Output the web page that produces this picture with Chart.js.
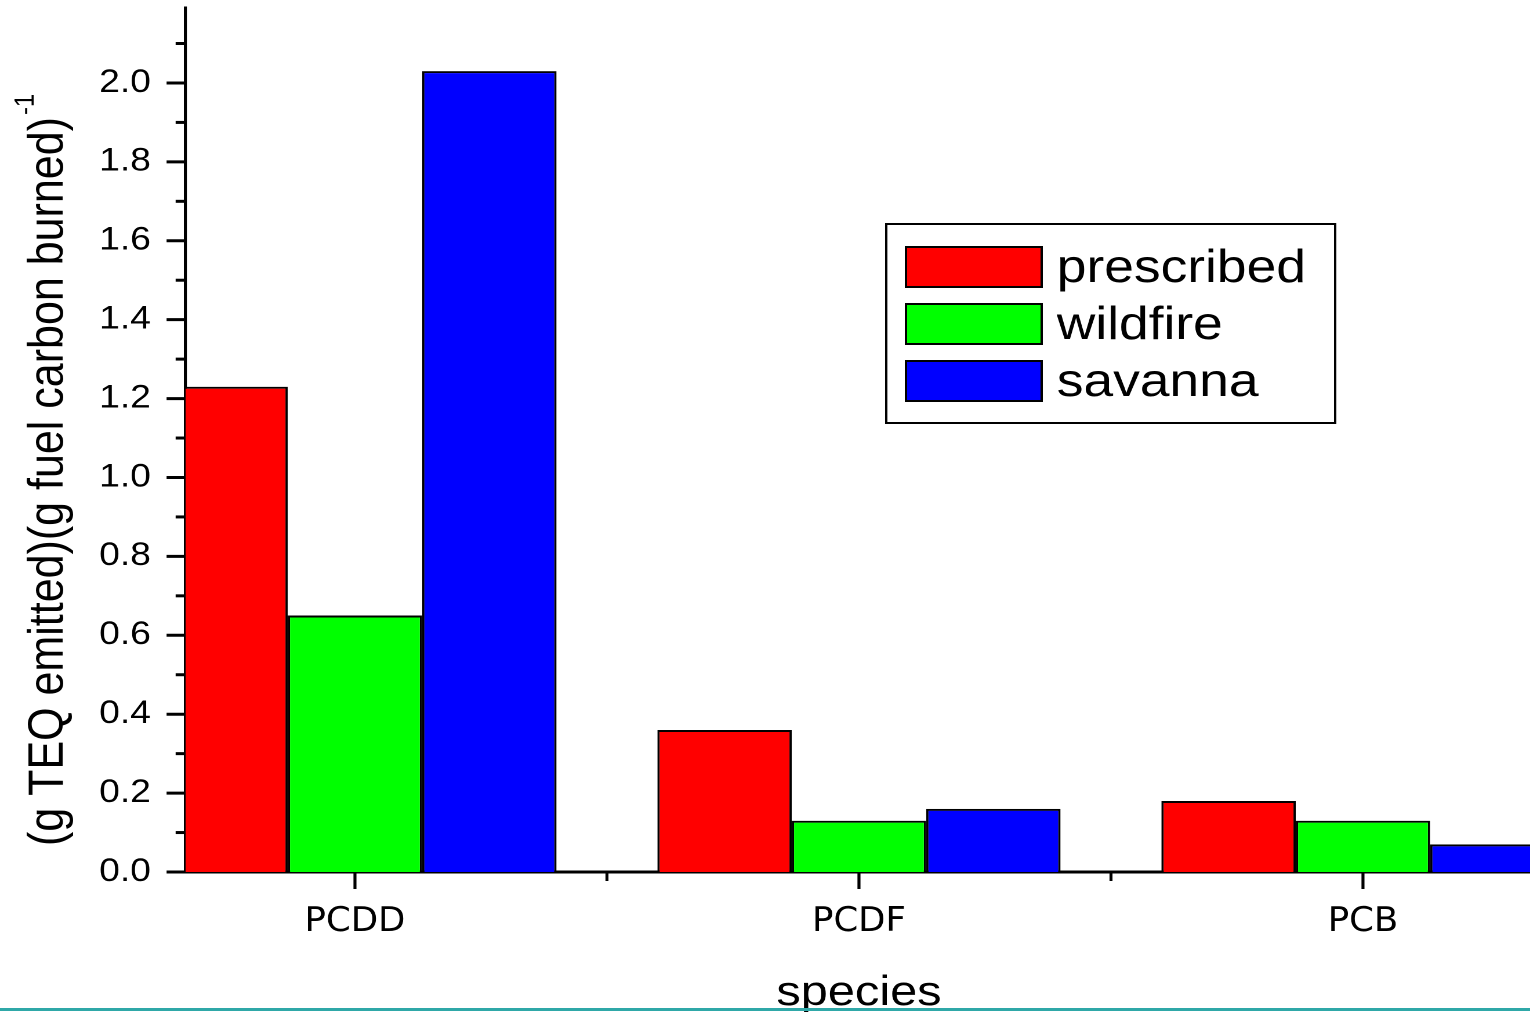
<!DOCTYPE html>
<html>
<head>
<meta charset="utf-8">
<script src="https://cdn.jsdelivr.net/npm/chart.js@4.4.0/dist/chart.umd.min.js"></script>
<style>
  html, body { margin: 0; padding: 0; background: #fff; overflow: hidden; }
  #wrap { position: relative; width: 1530px; height: 1012px; overflow: hidden; }
  /* the original figure is stretched sideways, so the canvas is too */
  #emissions { position: absolute; left: 0; top: 0; transform: scaleX(1.16); transform-origin: 0 0; }
  #rule { position: absolute; left: 0; right: 0; top: 1008px; height: 3px; background: #2fa8a8; }
</style>
</head>
<body>
<div id="wrap">
  <canvas id="emissions" width="1450" height="1012"></canvas>
  <div id="rule"></div>
</div>
<script>
const species = ['PCDD', 'PCDF', 'PCB'];
const prescribed = [1.23, 0.36, 0.18];
const wildfire = [0.65, 0.13, 0.13];
const savanna = [2.03, 0.16, 0.07];
const yTickValues = [0.0, 0.2, 0.4, 0.6, 0.8, 1.0, 1.2, 1.4, 1.6, 1.8, 2.0];
const yTitle = '(g TEQ emitted)(g fuel carbon burned)';
const yTitleSup = '-1';
const xTitle = 'species';

const ARIAL = '"Liberation Sans", Arial, sans-serif';

function points(values) {
    return species.map((s, i) => ({x: i, y: values[i]}));
}

// tick marks, axis titles and the boxed legend
const decor = {
    id: 'decor',
    afterDraw(chart) {
        const {ctx, chartArea: a, scales: {x, y}} = chart;
        ctx.save();
        ctx.strokeStyle = '#000';
        ctx.fillStyle = '#000';

        ctx.lineWidth = 3;
        for (let i = 0; i <= 21; i++) {
            const py = y.getPixelForValue(i / 10);
            const len = i % 2 === 0 ? 16.4 : 8.6;
            ctx.beginPath();
            ctx.moveTo(a.left - len, py);
            ctx.lineTo(a.left, py);
            ctx.stroke();
        }
        ctx.lineWidth = 2.6;
        for (let i = 0; i <= 5; i++) {
            const px = x.getPixelForValue(i / 2);
            if (px > a.right) continue;
            const len = i % 2 === 0 ? 17 : 9;
            ctx.beginPath();
            ctx.moveTo(px, a.bottom);
            ctx.lineTo(px, a.bottom + len);
            ctx.stroke();
        }

        ctx.font = '42px ' + ARIAL;
        ctx.textAlign = 'center';
        ctx.textBaseline = 'alphabetic';
        ctx.fillText(xTitle, x.getPixelForValue(1), 1005);

        ctx.save();
        ctx.translate(54, 846);
        ctx.rotate(-Math.PI / 2);
        ctx.textAlign = 'left';
        ctx.font = '43px ' + ARIAL;
        ctx.fillText(yTitle, 0, 0);
        const w = ctx.measureText(yTitle).width;
        ctx.font = '24px ' + ARIAL;
        ctx.fillText(yTitleSup, w + 2, -25);
        ctx.restore();

        // legend
        ctx.lineWidth = 2;
        ctx.strokeRect(764, 224, 387, 199);
        ctx.font = '46px ' + ARIAL;
        ctx.textAlign = 'left';
        chart.data.datasets.forEach((ds, i) => {
            const top = 247 + 57 * i;
            ctx.fillStyle = ds.backgroundColor;
            ctx.fillRect(781, top, 117, 40);
            ctx.strokeRect(781, top, 117, 40);
            ctx.fillStyle = '#000';
            ctx.fillText(ds.label, 911, top + 35);
        });
        ctx.restore();
    }
};

const barStyle = {borderColor: '#000', borderWidth: 2, categoryPercentage: 0.8, barPercentage: 1.0, clip: 0};

new Chart(document.getElementById('emissions'), {
    type: 'bar',
    data: {
        datasets: [
            {label: 'prescribed', data: points(prescribed), backgroundColor: '#ff0000', ...barStyle},
            {label: 'wildfire', data: points(wildfire), backgroundColor: '#00ff00', ...barStyle},
            {label: 'savanna', data: points(savanna), backgroundColor: '#0000ff', ...barStyle}
        ]
    },
    options: {
        responsive: false,
        devicePixelRatio: 2,
        animation: false,
        layout: {padding: {top: 8, left: 0, right: 0, bottom: 0}},
        plugins: {legend: {display: false}, tooltip: {enabled: false}},
        scales: {
            x: {
                type: 'linear',
                offset: false,
                min: -0.336,
                max: 2.633,
                grid: {display: false, drawTicks: false},
                border: {display: true, color: '#000', width: 3},
                ticks: {
                    color: '#000',
                    padding: 30,
                    font: {family: '"DejaVu Sans Condensed", "DejaVu Sans", sans-serif', size: 34},
                    callback: v => species[v]
                },
                afterBuildTicks: s => { s.ticks = species.map((name, i) => ({value: i})); },
                afterFit: s => { s.height = 140; s.paddingLeft = 0; s.paddingRight = 0; }
            },
            y: {
                min: 0,
                max: 2.19,
                grid: {display: false, drawTicks: false},
                border: {display: true, color: '#000', width: 2.6},
                ticks: {
                    color: '#000',
                    padding: 30,
                    font: {family: ARIAL, size: 32},
                    callback: v => v.toFixed(1)
                },
                afterBuildTicks: s => { s.ticks = yTickValues.map(v => ({value: v})); },
                afterFit: s => { s.width = 160; s.paddingTop = 0; s.paddingBottom = 0; }
            }
        }
    },
    plugins: [decor]
});
</script>
</body>
</html>
